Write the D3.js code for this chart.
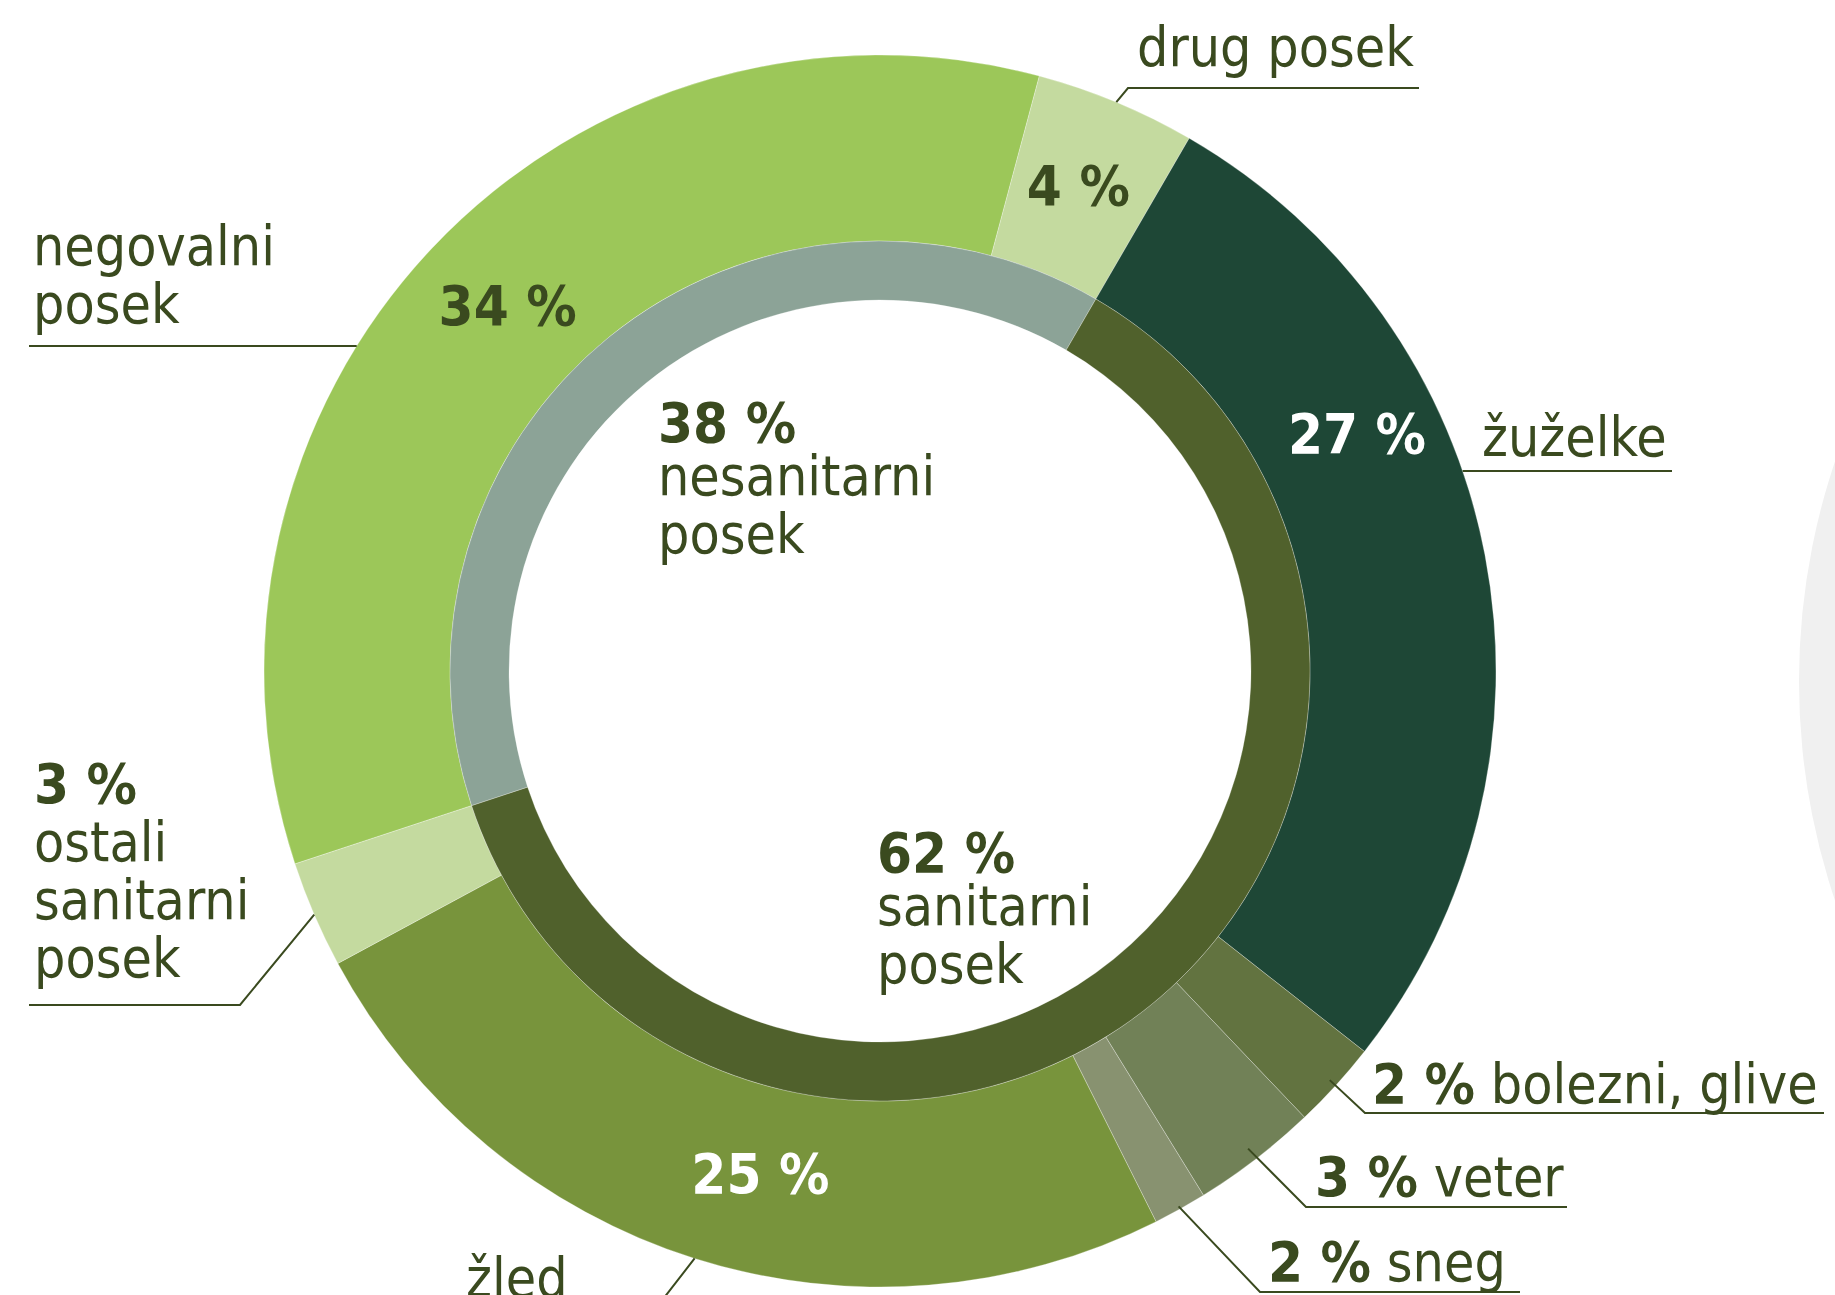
<!DOCTYPE html>
<meta charset="utf-8">
<style>
    body { margin: 0; background: #fff; }
    svg { display: block; }
    .lbl {
        font-family: "DejaVu Sans Condensed", "DejaVu Sans", sans-serif;
        font-stretch: condensed;
        font-size: 55px;
        fill: #3a4a1f;
    }
    .pct { font-weight: bold; font-size: 56px; }
    .leader { fill: none; stroke: #3a4a1f; stroke-width: 2; }
</style>

<body>
    <svg width="1835" height="1295"></svg>
    <script src="https://d3js.org/d3.v7.min.js"></script>
    <script>
        // outer ring - causes of felling, share of total cut (%)
        var causes = ["negovalni posek", "drug posek", "žuželke", "bolezni, glive", "veter", "sneg", "žled", "ostali sanitarni posek"];
        var shares = [34.2, 4.2, 27.2, 2.3, 3.3, 1.4, 24.5, 2.8];
        var shareLabels = ["34 %", "4 %", "27 %", "2 %", "3 %", "2 %", "25 %", "3 %"];
        var groupOf = ["nes", "nes", "san", "san", "san", "san", "san", "san"];

        // inner ring - groups
        var groups = ["nes", "san"];
        var groupNames = ["nesanitarni posek", "sanitarni posek"];
        var groupLabels = ["38 %", "62 %"];

        var outerColors = ["#9cc759", "#c4da9f", "#1e4736", "#627340", "#718157", "#889270", "#78943c", "#c4da9f"];
        var innerColors = ["#8ca397", "#50612c"];

        var svg = d3.select("svg"),
            cx = 880, cy = 671,
            rOut = 616, rMid = 430, rIn = 371,
            deg = Math.PI / 180,
            start = -108.25 * deg;

        function polar(a, r) { return [cx + r * Math.sin(a), cy - r * Math.cos(a)]; }
        function midAngle(d) { return (d.startAngle + d.endAngle) / 2; }
        // x where a horizontal line at y meets the outer edge
        function ringX(y, side) { return cx + side * Math.sqrt(rOut * rOut - (y - cy) * (y - cy)); }

        // part of the neighbouring chart peeking in on the right
        svg.append("circle")
            .attr("cx", 2486).attr("cy", 681).attr("r", 687)
            .attr("fill", "#f0f0f0");

        var pie = d3.pie().sort(null)
            .startAngle(start).endAngle(start + 2 * Math.PI);

        var outerArcs = pie(shares);
        var groupTotals = groups.map(function (g) {
            return d3.sum(shares.filter(function (v, i) { return groupOf[i] === g; }));
        });
        var innerArcs = pie(groupTotals);

        var arcOuter = d3.arc().innerRadius(rMid).outerRadius(rOut);
        var arcInner = d3.arc().innerRadius(rIn).outerRadius(rMid);

        var chart = svg.append("g")
            .attr("transform", "translate(" + cx + "," + cy + ")");

        chart.selectAll("path.outer")
            .data(outerArcs)
            .enter().append("path")
            .attr("class", "outer")
            .attr("d", arcOuter)
            .attr("fill", function (d, i) { return outerColors[i]; })
            .attr("stroke", "#ffffff").attr("stroke-opacity", 0.35).attr("stroke-width", 0.8);

        chart.selectAll("path.inner")
            .data(innerArcs)
            .enter().append("path")
            .attr("class", "inner")
            .attr("d", arcInner)
            .attr("fill", function (d, i) { return innerColors[i]; })
            .attr("stroke", "#ffffff").attr("stroke-opacity", 0.35).attr("stroke-width", 0.8);

        // percentages sitting inside the outer ring: [angle deg, radius, colour]
        var inside = { 0: [314.5, 522, "#3a4a1f"], 1: [22.2, 525, "#3a4a1f"], 2: [63.5, 533, "#ffffff"], 6: [193.4, 516, "#ffffff"] };
        Object.keys(inside).forEach(function (k) {
            var s = inside[k], p = polar(s[0] * deg, s[1]);
            svg.append("text")
                .attr("class", "lbl pct")
                .attr("x", p[0]).attr("y", p[1])
                .attr("dy", "0.36em")
                .attr("text-anchor", "middle")
                .style("fill", s[2])
                .text(shareLabels[k]);
        });

        // callouts outside the ring
        var callouts = [
            { i: 0, x: 33, y: 265, stack: true, uy: 346, ux0: 29, ring: -1 },
            { i: 1, x: 1137, y: 66, uy: 88, ux0: 1128, ux1: 1419, rr: 616 },
            { i: 2, x: 1482, y: 456, uy: 471, ux1: 1672, ring: 1 },
            { i: 3, x: 1372, y: 1103, pct: true, uy: 1113, ux0: 1365, ux1: 1824, rr: 608 },
            { i: 4, x: 1315, y: 1196, pct: true, uy: 1207, ux0: 1306, ux1: 1567, rr: 603 },
            { i: 5, x: 1268, y: 1281, pct: true, uy: 1292, ux0: 1260, ux1: 1520, rr: 613 },
            { i: 6, x: 466, y: 1297, uy: 1312, ux0: 653, ux1: 455, rr: 616 },
            { i: 7, x: 34, y: 803, stack: true, pctAbove: true, uy: 1005, ux0: 240, ux1: 29, rr: 616 }
        ];
        var lineGap = 58;

        callouts.forEach(function (c) {
            var name = causes[c.i];
            var t = svg.append("text").attr("class", "lbl").attr("x", c.x).attr("y", c.y);
            if (c.pct) {
                t.append("tspan").attr("class", "pct").text(shareLabels[c.i]);
                t.append("tspan").text(" " + name);
            } else if (c.stack) {
                var words = name.split(" "), row = 0;
                if (c.pctAbove) {
                    t.append("tspan").attr("class", "pct").attr("x", c.x).attr("y", c.y).text(shareLabels[c.i]);
                    row = 1;
                }
                words.forEach(function (w, j) {
                    t.append("tspan").attr("x", c.x).attr("y", c.y + (row + j) * lineGap).text(w);
                });
            } else {
                t.text(name);
            }

            var path;
            if (c.ring) {
                var ex = ringX(c.uy, c.ring);
                path = c.ring < 0
                    ? "M" + c.ux0 + "," + c.uy + "H" + ex
                    : "M" + ex + "," + c.uy + "H" + c.ux1;
            } else {
                var p = polar(midAngle(outerArcs[c.i]), c.rr);
                path = "M" + p[0] + "," + p[1] + "L" + c.ux0 + "," + c.uy + "H" + c.ux1;
            }
            svg.append("path").attr("class", "leader").attr("d", path);
        });

        // group labels in the middle
        var middle = [{ x: 658, y: 442 }, { x: 877, y: 872 }];
        middle.forEach(function (m, g) {
            var t = svg.append("text").attr("class", "lbl").attr("x", m.x).attr("y", m.y);
            t.append("tspan").attr("class", "pct").attr("x", m.x).attr("y", m.y).text(groupLabels[g]);
            groupNames[g].split(" ").forEach(function (w, j) {
                t.append("tspan").attr("x", m.x).attr("y", m.y + 53 + j * lineGap).text(w);
            });
        });
    </script>
</body>
